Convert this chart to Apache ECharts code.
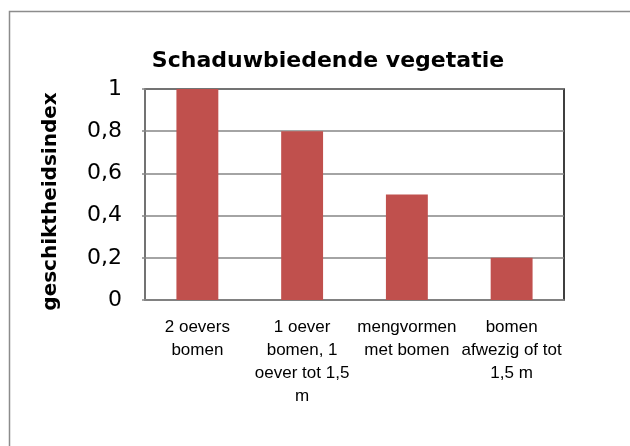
<!DOCTYPE html>
<html>
<head>
<meta charset="utf-8">
<script src="https://cdn.jsdelivr.net/npm/echarts@6/dist/echarts.min.js"></script>
<style>
  html, body { margin: 0; padding: 0; background: #fff; }
  #chart { width: 630px; height: 446px; }
</style>
</head>
<body>
<div id="chart"></div>
<script>
// chart data
const categories = [
  '2 oevers\nbomen',
  '1 oever\nbomen, 1\noever tot 1,5\nm',
  'mengvormen\nmet bomen',
  'bomen\nafwezig of tot\n1,5 m'
]
const values = [1, 0.8, 0.5, 0.2]
const yTicks = { min: 0, max: 1, interval: 0.2 }

const chart = echarts.init(document.getElementById('chart'))

chart.setOption({
  animation: false,
  backgroundColor: '#fff',
  graphic: [{
    type: 'rect',
    left: 7, top: 9,
    shape: { width: 700, height: 500 },
    style: { fill: 'none', stroke: '#8c8c8c', lineWidth: 1.5 },
    silent: true
  }],
  title: {
    text: 'Schaduwbiedende vegetatie',
    left: 323,
    textAlign: 'center',
    top: 45,
    textStyle: { fontFamily: 'DejaVu Sans', fontWeight: 'bold', fontSize: 22, color: '#000' }
  },
  grid: {
    left: 145, top: 89, right: 66, bottom: 146,
    show: true,
    borderColor: '#000',
    borderWidth: 1.5,
    backgroundColor: '#fff'
  },
  xAxis: {
    type: 'category',
    data: categories,
    axisLine: { lineStyle: { color: '#868686', width: 1.5 } },
    axisTick: { inside: true, length: 6, lineStyle: { color: '#868686', width: 1.5 } },
    axisLabel: {
      margin: 16,
      interval: 0,
      fontFamily: 'Liberation Sans',
      fontSize: 17,
      lineHeight: 23,
      color: '#000'
    }
  },
  yAxis: {
    type: 'value',
    min: yTicks.min,
    max: yTicks.max,
    interval: yTicks.interval,
    name: 'geschiktheidsindex',
    nameLocation: 'middle',
    nameGap: 84,
    nameTextStyle: {
      fontFamily: 'DejaVu Sans', fontWeight: 'bold', fontSize: 20, color: '#000',
      padding: [0, 14, 0, 0]
    },
    axisLine: { show: true, lineStyle: { color: '#868686', width: 1.5 } },
    axisTick: { show: true, length: 3, lineStyle: { color: '#868686', width: 1.5 } },
    splitLine: { lineStyle: { color: '#868686', width: 1.5 } },
    axisLabel: {
      margin: 23,
      fontFamily: 'DejaVu Sans',
      fontSize: 22,
      color: '#000',
      formatter: v => String(+v.toFixed(1)).replace('.', ',')
    }
  },
  series: [{
    type: 'bar',
    data: values,
    barWidth: '40%',
    itemStyle: { color: '#C0504D' }
  }]
})
</script>
</body>
</html>
